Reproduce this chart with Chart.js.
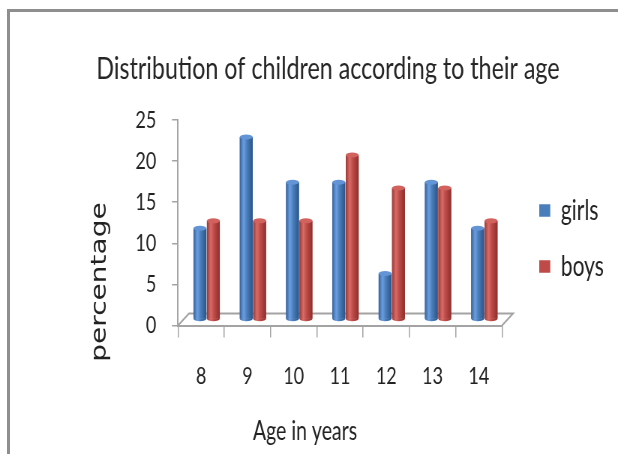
<!DOCTYPE html>
<html>
<head>
<meta charset="utf-8">
<script src="https://cdn.jsdelivr.net/npm/chart.js@4.4.1/dist/chart.umd.min.js"></script>
<style>
  html, body { margin: 0; padding: 0; background: #fff; overflow: hidden; width: 618px; height: 454px; }
  #frame { position: absolute; left: 7px; top: 9px; width: 700px; height: 600px;
           border-left: 3px solid #8e8e8e; border-top: 3px solid #8e8e8e; }
  /* the chart is laid out on a wider canvas and squeezed horizontally */
  #wrap { position: absolute; left: 0; top: 0; width: 824px; height: 454px;
          transform: scaleX(0.75); transform-origin: 0 0; }
</style>
</head>
<body>
<div id="frame"></div>
<div id="wrap"><canvas id="c"></canvas></div>
<script>
// ---- data ----
const ages = ['8', '9', '10', '11', '12', '13', '14'];
const girls = [11.1, 22.2, 16.7, 16.7, 5.6, 16.7, 11.1];
const boys = [12, 12, 12, 20, 16, 16, 12];
const seriesNames = ['girls', 'boys'];
const yMin = 0, yMax = 25, yStep = 5;

// ---- look ----
const SX = 0.75;                          // horizontal squeeze applied by CSS
const W = 824;                            // canvas width before the squeeze
const DEPTH_X = 11 / SX, DEPTH_Y = -12;   // floor depth offset
const AXIS = '#a3a3a3';
const TEXT = '#222222';
const PLOT_LEFT = 178 / SX;               // y axis line
const PLOT_RIGHT = 502 / SX;              // right end of the x axis
const LEGEND_LEFT = 691;                  // legend box left edge
const TITLE_CENTER = 328 / SX;
const shades = [
  { base: '#4a7ebb', edge: '#34609a', light: '#6c9fe0', mid: '#4a7ebb', dark: '#2b5486', cap: '#6294d6' },
  { base: '#be4b48', edge: '#9a3734', light: '#d86c68', mid: '#be4b48', dark: '#8c2f2c', cap: '#d2625e' }
];

// outer paddings, refined once the legend has measured itself
const pad = { left: 60, right: 10, top: 0, bottom: 0 };

// 3D floor, half-depth shift of the bars, cylinder shading, axis titles
const depthPlugin = {
  id: 'depth',
  beforeDatasetsDraw(chart) {
    const { ctx } = chart;
    const xs = chart.scales.x, ys = chart.scales.y;
    const y0 = ys.getPixelForValue(0);
    ctx.save();
    ctx.strokeStyle = AXIS;
    ctx.lineWidth = 2;
    ctx.beginPath();
    ctx.moveTo(xs.left, y0);
    ctx.lineTo(xs.left + DEPTH_X, y0 + DEPTH_Y);
    ctx.lineTo(xs.right + DEPTH_X, y0 + DEPTH_Y);
    ctx.lineTo(xs.right, y0);
    ctx.stroke();
    ctx.restore();
    ctx.save();
    ctx.translate(DEPTH_X / 2, DEPTH_Y / 2);
  },
  afterDatasetsDraw(chart) {
    const { ctx } = chart;
    const ry = 2.5;
    chart.data.datasets.forEach((ds, i) => {
      const sh = shades[i];
      chart.getDatasetMeta(i).data.forEach(el => {
        const { x, y, base, width } = el.getProps(['x', 'y', 'base', 'width'], true);
        const x0 = x - width / 2;
        const g = ctx.createLinearGradient(x0, 0, x0 + width, 0);
        g.addColorStop(0, sh.edge);
        g.addColorStop(0.3, sh.light);
        g.addColorStop(0.55, sh.mid);
        g.addColorStop(1, sh.dark);
        ctx.fillStyle = g;
        ctx.fillRect(x0, y, width, base - y);
        ctx.beginPath();
        ctx.ellipse(x, base, width / 2, ry, 0, 0, Math.PI);
        ctx.fill();
        ctx.beginPath();
        ctx.ellipse(x, y, width / 2, ry, 0, 0, Math.PI * 2);
        ctx.fillStyle = sh.cap;
        ctx.fill();
      });
    });
    ctx.restore();
  },
  afterDraw(chart) {
    const { ctx } = chart;
    ctx.save();
    ctx.fillStyle = TEXT;
    ctx.textAlign = 'center';
    ctx.textBaseline = 'middle';
    ctx.font = '26px Lato';
    ctx.fillText('Age in years', 305 / SX, 432);
    ctx.translate(100 / SX, 282);
    ctx.rotate(-Math.PI / 2);
    ctx.font = '28px "DejaVu Sans"';
    ctx.fillText('percentage', 0, 0);
    ctx.restore();
  }
};

const chart = new Chart(document.getElementById('c'), {
  type: 'bar',
  data: {
    labels: ages,
    datasets: [
      { label: seriesNames[0], data: girls, backgroundColor: shades[0].base, borderWidth: 0 },
      { label: seriesNames[1], data: boys, backgroundColor: shades[1].base, borderWidth: 0 }
    ]
  },
  options: {
    responsive: true,
    maintainAspectRatio: false,
    animation: false,
    layout: { padding: pad },
    datasets: { bar: { categoryPercentage: 0.58, barPercentage: 0.96 } },
    plugins: {
      title: {
        display: true,
        text: 'Distribution of children according to their age',
        color: '#262626',
        font: { family: 'Lato', size: 31, weight: 'normal', lineHeight: 1.2 },
        padding: { top: 50, bottom: 32.8 }
      },
      legend: {
        position: 'right',
        align: 'center',
        maxWidth: 400,
        title: { display: true, text: '', font: { size: 10 }, padding: { top: 11, bottom: 0 } },
        labels: {
          color: TEXT,
          font: { family: 'Lato', size: 28 },
          boxWidth: 14.7,
          boxHeight: 12.5,
          padding: 28
        }
      },
      tooltip: { enabled: false }
    },
    scales: {
      x: {
        grid: { offset: true, drawOnChartArea: false, drawTicks: true, tickLength: 12, color: AXIS, lineWidth: 1.5 },
        border: { display: true, color: AXIS, width: 2 },
        ticks: { color: TEXT, font: { family: 'Lato', size: 24 }, padding: 24, maxRotation: 0 },
        afterFit: s => { s.height = 128.5; }
      },
      y: {
        min: yMin, max: yMax,
        ticks: { stepSize: yStep, color: TEXT, font: { family: 'Lato', size: 24 }, padding: 21 },
        grid: { drawOnChartArea: false, drawTicks: true, tickLength: 8, color: AXIS, lineWidth: 1.5 },
        border: { display: true, color: AXIS, width: 2 },
        afterFit: s => { s.width = PLOT_LEFT - pad.left; }
      },
      gap: {
        type: 'linear',
        position: 'right',
        display: true,
        grid: { display: false },
        border: { display: false },
        ticks: { display: false },
        afterFit: s => { s.width = LEGEND_LEFT - PLOT_RIGHT; }
      }
    }
  },
  plugins: [depthPlugin]
});

// place the legend and centre the title once the legend width is known
for (let pass = 0; pass < 3; pass++) {
  const legendW = chart.legend.width;
  pad.right = W - LEGEND_LEFT - legendW;
  pad.left = 2 * TITLE_CENTER - W + pad.right;
  chart.options.layout.padding = Object.assign({}, pad);
  chart.update();
}
</script>
</body>
</html>
